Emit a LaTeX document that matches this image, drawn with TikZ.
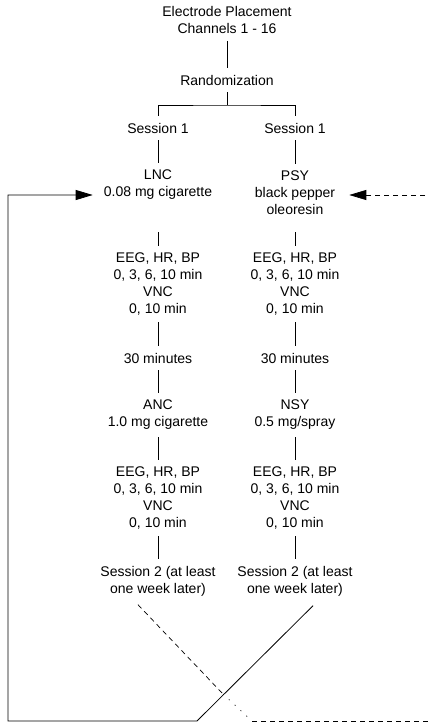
\documentclass[tikz,border=0pt]{standalone}
\usepackage{fontspec}
\setmainfont{Liberation Sans}
\usetikzlibrary{arrows.meta,positioning}

\begin{document}
\begin{tikzpicture}[
  x=1pt, y=-1pt,
  font=\fontsize{14}{17}\selectfont,
  txt/.style={align=center, inner xsep=2pt, inner ysep=7pt},
  link/.style={line width=0.7pt},
  back/.style={line width=0.8pt, -{Triangle[length=17pt,width=10pt]}},
  dashline/.style={line width=0.7pt, dash pattern=on 5pt off 4pt},
  dotline/.style={line width=0.7pt, dash pattern=on 1pt off 7pt}
]
\useasboundingbox (0,0) rectangle (428,724);

% ---- top ----
\node[txt] (top)  at (227,20) {Electrode Placement\\Channels 1 - 16};
\node[txt] (rand) at (227,80) {Randomization};
\coordinate (fork) at (227,105);

% ---- left column ----
\node[txt] (s1L)   at (158,128)   {Session 1};
\node[txt] (lnc)   at (158,185)   {LNC\\0.08 mg cigarette};
\node[txt] (eegL)  at (158,284)   {EEG, HR, BP\\0, 3, 6, 10 min\\VNC\\0, 10 min};
\node[txt] (minL)  at (158,358)   {30 minutes};
\node[txt] (anc)   at (158,415)   {ANC\\1.0 mg cigarette};
\node[txt] (eeg2L) at (158,498)   {EEG, HR, BP\\0, 3, 6, 10 min\\VNC\\0, 10 min};
\node[txt] (s2L)   at (158,581.5) {Session 2 (at least\\one week later)};

% ---- right column ----
\node[txt] (s1R)   at (295,128)   {Session 1};
\node[txt] (psy)   at (295,193)   {PSY\\black pepper\\oleoresin};
\node[txt] (eegR)  at (295,284)   {EEG, HR, BP\\0, 3, 6, 10 min\\VNC\\0, 10 min};
\node[txt] (minR)  at (295,358)   {30 minutes};
\node[txt] (nsy)   at (295,415)   {NSY\\0.5 mg/spray};
\node[txt] (eeg2R) at (295,498)   {EEG, HR, BP\\0, 3, 6, 10 min\\VNC\\0, 10 min};
\node[txt] (s2R)   at (295,581.5) {Session 2 (at least\\one week later)};

% ---- crossover points ----
\coordinate (inL)     at ([xshift=-9pt,yshift=-10pt]lnc.west);
\coordinate (inR)     at ([xshift=12pt,yshift=-2pt]psy.east);
\coordinate (cross)   at (223,694);
\coordinate (cornerL) at (197,721);
\coordinate (cornerR) at (252,721);
\coordinate (farL)    at (8,721);
\coordinate (farR)    at (440,721);

% edges
\draw[link] (top) -- (rand);
\draw[link] (rand.south) -- (fork);
\draw[link] (s1L.north) |- (fork) -| (s1R.north);
\draw[link] (s1L) -- (lnc);
\draw[link] (s1R) -- (psy);
\draw[link, shorten <=10pt] (eegL.north |- psy.south) -- (eegL.north);
\draw[link, shorten <=10pt] (psy.south) -- (eegR.north);
\draw[link] (eegL) -- (minL);
\draw[link] (eegR) -- (minR);
\draw[link] (minL) -- (anc);
\draw[link] (minR) -- (nsy);
\draw[link] (anc.south) -- (eeg2L.north);
\draw[link] (nsy.south) -- (eeg2R.north);
\draw[link] (eeg2L) -- (s2L);
\draw[link] (eeg2R) -- (s2R);

% crossover
\draw[back] ([xshift=18pt,yshift=-2pt]s2R.south) -- (cornerL) -- (farL) |- (inL);
\draw[dashline] ([xshift=-20pt,yshift=-1pt]s2L.south) -- (cross);
\draw[dotline] (cross) -- (cornerR);
\draw[dashline, -{Triangle[length=17pt,width=10pt]}] (cornerR) -- (farR) |- (inR);
\end{tikzpicture}
\end{document}
